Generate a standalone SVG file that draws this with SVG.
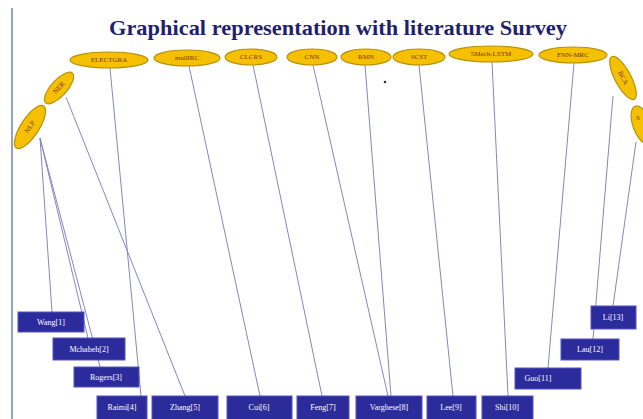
<svg xmlns="http://www.w3.org/2000/svg" width="643" height="419" viewBox="0 0 643 419">
<style>
.t{font-family:"Liberation Serif","Times New Roman",serif;font-weight:bold;font-size:21px;fill:#1f1f6e}
.e{fill:#f5c000;stroke:#b8900a;stroke-width:1.2}
.el{font-family:"Liberation Serif",serif;font-size:7px;fill:#7a3010;text-anchor:middle;dominant-baseline:central}
.b{fill:#2b2b9c;stroke:#5555c0;stroke-width:1}
.bl{font-family:"Liberation Serif",serif;font-size:8px;fill:#ffffff;text-anchor:middle;dominant-baseline:central}
.c line{stroke:#8585c5;stroke-width:1}
</style>
<rect width="643" height="419" fill="#ffffff"/>
<line x1="12" y1="8" x2="12" y2="419" stroke="#6f83b0" stroke-width="1.5"/>
<text class="t" x="338" y="35" text-anchor="middle" textLength="458" lengthAdjust="spacingAndGlyphs">Graphical representation with literature Survey</text>
<circle cx="385" cy="82" r="1.3" fill="#333"/>
<g class="c" id="connectors">
<line x1="40" y1="138" x2="52" y2="312"/>
<line x1="40" y1="138" x2="88" y2="338"/>
<line x1="40" y1="138" x2="100" y2="367"/>
<line x1="66" y1="97" x2="185" y2="396"/>
<line x1="110" y1="68" x2="141" y2="396"/>
<line x1="189" y1="66" x2="260" y2="396"/>
<line x1="253" y1="65" x2="322" y2="396"/>
<line x1="313" y1="65" x2="388" y2="396"/>
<line x1="365" y1="65" x2="391" y2="396"/>
<line x1="419" y1="65" x2="453" y2="396"/>
<line x1="492" y1="62" x2="508" y2="396"/>
<line x1="574" y1="63" x2="548" y2="368"/>
<line x1="613" y1="96" x2="593" y2="339"/>
<line x1="636" y1="142" x2="613" y2="306"/>
</g>
<g id="n-nlp"><ellipse class="e" cx="30" cy="127" rx="25" ry="9" transform="rotate(-57 30 127)"/><text class="el" x="30" y="127" transform="rotate(-57 30 127)">NLP</text></g>
<g id="n-ner"><ellipse class="e" cx="59" cy="88" rx="20" ry="8" transform="rotate(-48 59 88)"/><text class="el" x="59" y="88" transform="rotate(-48 59 88)">NER</text></g>
<g id="n-electgra"><ellipse class="e" cx="109" cy="60" rx="39" ry="8"/><text class="el" x="109" y="60">ELECTGRA</text></g>
<g id="n-multirc"><ellipse class="e" cx="187" cy="58" rx="33" ry="8"/><text class="el" x="187" y="58">mu0IRC</text></g>
<g id="n-clcrs"><ellipse class="e" cx="251" cy="57" rx="26" ry="8"/><text class="el" x="251" y="57">CLCRS</text></g>
<g id="n-cnn"><ellipse class="e" cx="312" cy="57" rx="25" ry="8"/><text class="el" x="312" y="57">CNN</text></g>
<g id="n-rmn"><ellipse class="e" cx="366" cy="57" rx="25" ry="8"/><text class="el" x="366" y="57">RMN</text></g>
<g id="n-scst"><ellipse class="e" cx="419" cy="57" rx="26" ry="8"/><text class="el" x="419" y="57">SCST</text></g>
<g id="n-mechlstm"><ellipse class="e" cx="491" cy="54" rx="42" ry="8"/><text class="el" x="491" y="54">5Mech-LSTM</text></g>
<g id="n-fnnmrc"><ellipse class="e" cx="573" cy="55" rx="34" ry="8"/><text class="el" x="573" y="55">FNN-MRC</text></g>
<g id="n-bca"><ellipse class="e" cx="623" cy="78" rx="24" ry="8" transform="rotate(62 623 78)"/><text class="el" x="623" y="78" transform="rotate(62 623 78)">BCA</text></g>
<g id="n-edge"><ellipse class="e" cx="642" cy="125" rx="20" ry="9" transform="rotate(70 642 125)"/><text class="el" x="638" y="118">S</text></g>
<g id="r-wang"><rect class="b" x="18" y="312" width="66" height="20"/><text class="bl" x="51" y="322">Wang[1]</text></g>
<g id="r-mchabeh"><rect class="b" x="53" y="338" width="72" height="22"/><text class="bl" x="89" y="349">Mchabeh[2]</text></g>
<g id="r-rogers"><rect class="b" x="74" y="367" width="65" height="20"/><text class="bl" x="106" y="377">Rogers[3]</text></g>
<g id="r-raimi"><rect class="b" x="97" y="396" width="50" height="24"/><text class="bl" x="122" y="407">Raimi[4]</text></g>
<g id="r-zhang"><rect class="b" x="152" y="396" width="66" height="24"/><text class="bl" x="185" y="407">Zhang[5]</text></g>
<g id="r-cui"><rect class="b" x="227" y="396" width="65" height="24"/><text class="bl" x="259" y="407">Cui[6]</text></g>
<g id="r-feng"><rect class="b" x="297" y="396" width="52" height="24"/><text class="bl" x="323" y="407">Feng[7]</text></g>
<g id="r-varghese"><rect class="b" x="356" y="396" width="66" height="24"/><text class="bl" x="389" y="407">Varghese[8]</text></g>
<g id="r-lee"><rect class="b" x="427" y="396" width="49" height="24"/><text class="bl" x="451" y="407">Lee[9]</text></g>
<g id="r-shi"><rect class="b" x="482" y="396" width="51" height="24"/><text class="bl" x="507" y="407">Shi[10]</text></g>
<g id="r-guo"><rect class="b" x="515" y="368" width="66" height="21"/><text class="bl" x="538" y="378.5">Guo[11]</text></g>
<g id="r-lau"><rect class="b" x="561" y="339" width="58" height="21"/><text class="bl" x="590" y="349.5">Lau[12]</text></g>
<g id="r-li"><rect class="b" x="591" y="306" width="45" height="23"/><text class="bl" x="613" y="317.5">Li[13]</text></g>
</svg>
